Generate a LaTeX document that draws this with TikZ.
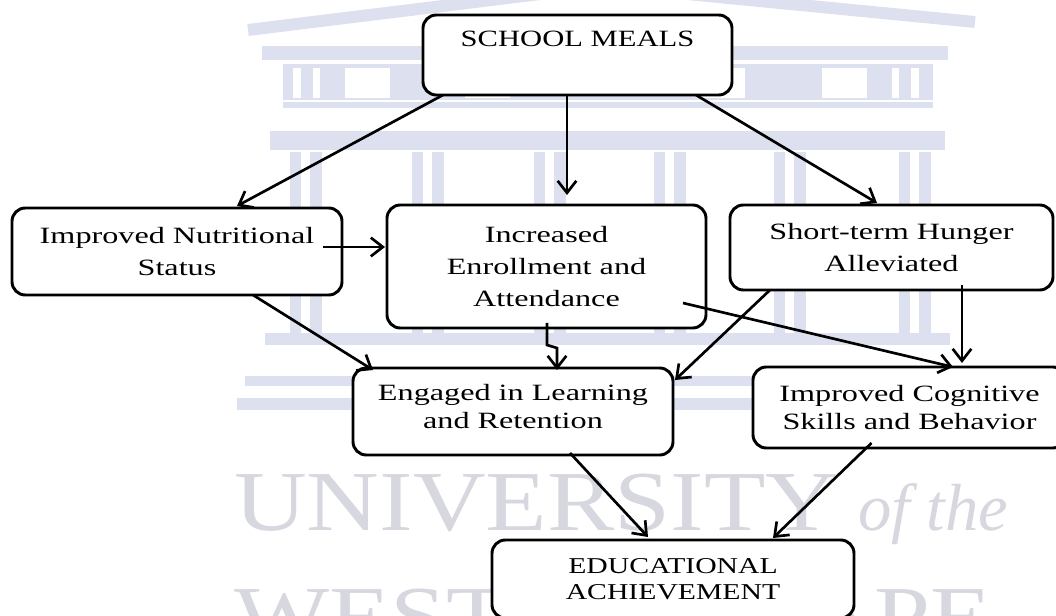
\documentclass[tikz,border=0pt]{standalone}
\usepackage{fontspec}
\setmainfont{Liberation Serif}
\newfontfamily\boxfont{Liberation Serif}[FakeStretch=1.38]
\newfontfamily\capfont{Liberation Serif}[FakeStretch=1.31]
\newfontfamily\markfont{Liberation Serif}[FakeStretch=1.18]
\usetikzlibrary{arrows.meta,calc}

\definecolor{emblem}{RGB}{221,224,238}
\definecolor{emblemtext}{RGB}{214,215,223}

\begin{document}
\begin{tikzpicture}[x=0.75pt,y=-0.75pt,
  box/.style={draw=black, line width=2.2pt, rounded corners=10pt, fill=white,
              inner sep=0pt, outer sep=0pt, align=center},
  toprow/.style={box, font=\boxfont\fontsize{17.5pt}{24pt}\selectfont},
  lowrow/.style={box, font=\boxfont\fontsize{17.5pt}{20.6pt}\selectfont},
  markword/.style={text=emblemtext, anchor=base west, inner sep=0pt},
  link/.style={line width=2pt, -{Straight Barb[length=9pt,width=14pt]}}
]
\useasboundingbox (0,0) rectangle (1056,616);
\clip (0,0) rectangle (1056,616);

% ---- faint emblem behind the chart: a columned building and a name ----
\draw[emblem, line width=9pt] (248,30) -- (605,-14) -- (975,22);
\fill[emblem] (262,46) rectangle (948,60);
\fill[emblem] (283,64) rectangle (933,100);
\foreach \a/\b in {293/301, 313/320, 345/390, 465/510, 700/745, 822/867, 892/899, 911/919}
  \fill[white] (\a,68) rectangle (\b,98);
\fill[emblem] (283,102) rectangle (933,108);
\fill[emblem] (270,131) rectangle (945,150);
\foreach \c in {306,428,550,670,790,915} {
  \fill[emblem] (\c-16,152) rectangle (\c-5,335);
  \fill[emblem] (\c+4,152) rectangle (\c+16,335);
}
\fill[emblem] (265,333) rectangle (950,345);
\fill[emblem] (245,376) rectangle (965,386);
\fill[emblem] (237,398) rectangle (975,410);
\node[markword, font=\markfont\fontsize{64pt}{64pt}\selectfont] (univ) at (234,530) {UNIVERSITY};
\node[markword, font=\itshape\fontsize{50pt}{50pt}\selectfont] (ofthe) at (858,530) {of the};
\node[markword, font=\markfont\fontsize{64pt}{64pt}\selectfont] (wcape) at (234,645) {WESTERN CAPE};

% ---- boxes ----
\node[box, font=\capfont\fontsize{17.5pt}{21pt}\selectfont,
      minimum width=231.75pt, minimum height=60pt, text height=13pt, text depth=25pt]
      (meals) at (577.5,55) {SCHOOL MEALS};
\node[toprow, minimum width=247.5pt, minimum height=65.25pt]
      (nutr) at (177,251.5) {Improved Nutritional\\Status};
\node[toprow, minimum width=239.25pt, minimum height=92.25pt]
      (enrol) at (546.5,266.5) {Increased\\Enrollment and\\Attendance};
\node[toprow, minimum width=242.25pt, minimum height=63.75pt]
      (hunger) at (891.5,247.5) {Short-term Hunger\\Alleviated};
\node[lowrow, minimum width=240pt, minimum height=65.25pt, text depth=7.5pt]
      (engaged) at (513,411.5) {Engaged in Learning\\and Retention};
\node[lowrow, minimum width=234.75pt, minimum height=60.75pt]
      (cognit) at (909.5,407.5) {Improved Cognitive\\Skills and Behavior};
\node[box, font=\capfont\fontsize{17pt}{19.5pt}\selectfont,
      minimum width=271.5pt, minimum height=58.5pt]
      (edu) at (673,579) {EDUCATIONAL\\ACHIEVEMENT};

% ---- connectors ----
\draw[link] ($(meals.south)+(-134.5,0)$) -- ($(nutr.north)+(60,-2)$);
\draw[link] ($(meals.south)+(-10.5,0)$) -- ($(enrol.north)+(20.5,-10)$);
\draw[link] ($(meals.south)+(118.5,0)$) -- ($(hunger.north)+(-14.5,-2)$);
\draw[link] ($(nutr.east)+(-19,-4.5)$) -- ($(enrol.west)+(-2,-19.5)$);
\draw[link] ($(nutr.south)+(76,0)$) -- ($(engaged.north)+(-140,2)$);
\draw[link] ($(enrol.south)+(0.5,-5)$) -- ++(0,22) -- ++(10,3) -- ($(engaged.north)+(44,2)$);
\draw[link] ($(enrol.east)+(-23,36.5)$) -- ($(cognit.north)+(43.5,0)$);
\draw[link] ($(hunger.south)+(-121.5,0)$) -- ($(engaged.north east)+(2,12)$);
\draw[link] ($(hunger.south)+(70.5,-5)$) -- ($(cognit.north)+(52.5,-4)$);
\draw[link] ($(engaged.south)+(57,-2)$) -- ($(edu.north)+(-25,-3)$);
\draw[link] ($(cognit.south)+(-38,-5)$) -- ($(edu.north)+(100,-2)$);
\end{tikzpicture}
\end{document}
